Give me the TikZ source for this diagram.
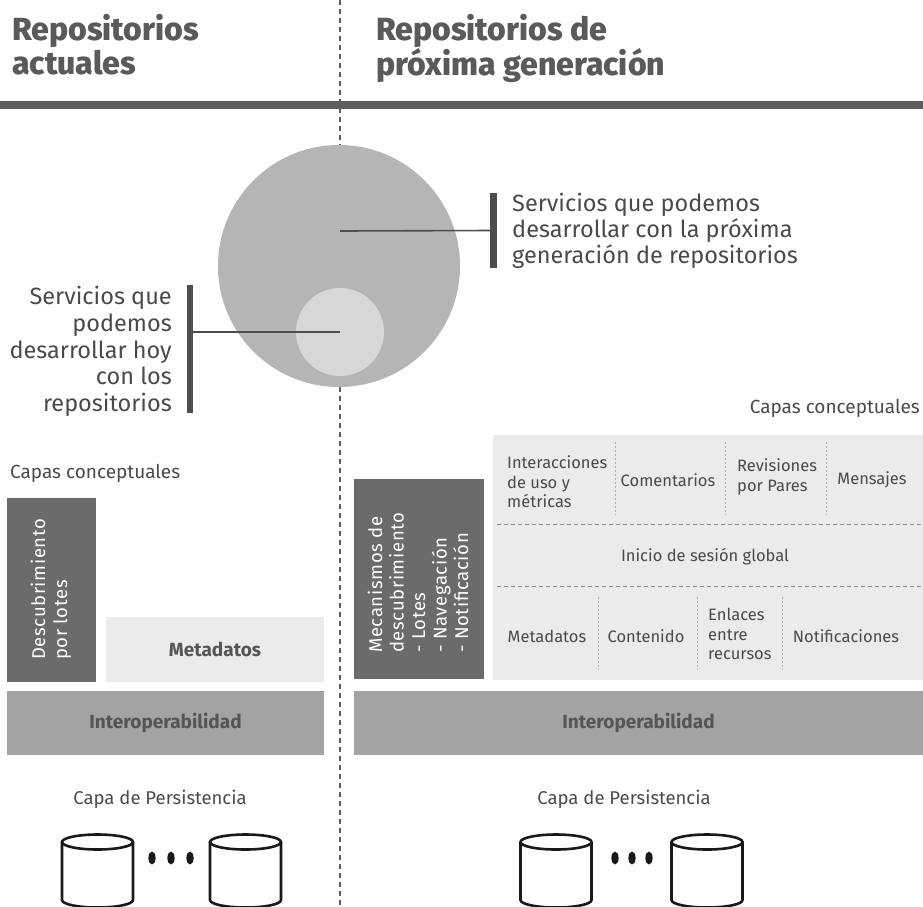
\documentclass[tikz,border=0pt]{standalone}
\usepackage{fontspec}
\setmainfont{Fira Sans}
\newfontfamily\heavyfont{Fira Sans ExtraBold}
\newfontfamily\spacedfont[LetterSpace=3.5]{Fira Sans}
\definecolor{titlec}{HTML}{5A5A5A}
\definecolor{txtc}{HTML}{4A4A4A}
\definecolor{barc}{HTML}{5E5E5E}
\definecolor{darkboxc}{HTML}{6B6B6B}
\definecolor{interc}{HTML}{A3A3A3}
\definecolor{lightboxc}{HTML}{EBEBEB}
\definecolor{bigcc}{HTML}{B5B5B5}
\definecolor{smallcc}{HTML}{D7D7D7}
\definecolor{calloutc}{HTML}{4D4D4D}
\definecolor{sepc}{HTML}{8C8C8C}
\definecolor{boldtxtc}{HTML}{555555}
\begin{document}
\begin{tikzpicture}[x=1pt,y=-1pt,
  titletext/.style={font=\heavyfont\fontsize{32}{34}\selectfont, text=titlec, align=left, inner sep=0, anchor=north west},
  callout/.style={font=\fontsize{23.5}{26}\selectfont, text=txtc, inner sep=0},
  calloutbar/.style={fill=calloutc, inner sep=0, minimum width=6.5},
  calloutline/.style={draw=calloutc, line width=1.6},
  capas/.style={font=\fontsize{19}{22}\selectfont, text=txtc, inner sep=0},
  darkb/.style={fill=darkboxc, inner sep=0},
  lightb/.style={fill=lightboxc, inner sep=0},
  interb/.style={fill=interc, inner sep=0, font=\fontsize{19}{22}\selectfont\bfseries, text=boldtxtc},
  rottext/.style={rotate=90, anchor=west, align=left, text=white, inner sep=0, font=\spacedfont\fontsize{18.5}{22}\selectfont},
  cell/.style={font=\fontsize{16.5}{19.5}\selectfont, text=txtc, inner sep=0},
  vsep/.style={draw=sepc!70, line width=0.9, dash pattern=on 2pt off 2pt},
  hsep/.style={draw=sepc, line width=0.9, dash pattern=on 4pt off 3pt},
  divider/.style={draw=barc, line width=1.2, dash pattern=on 5pt off 4pt},
  persist/.style={font=\fontsize{18.5}{22}\selectfont, text=txtc, inner sep=0, anchor=base},
  cyl/.style={draw=black!90, line width=2.6},
]
\useasboundingbox (0,0) rectangle (923,906);

% divider
\coordinate (divtop) at (340,0);
\coordinate (divbot) at (340,906);
\draw[divider] (divtop) -- (divbot);

% titles and header bar
\node[titletext] (t1) at (12,14) {Repositorios\\actuales};
\node[titletext] (t2) at (376,14) {Repositorios de\\próxima generación};
\fill[barc] (0,101) rectangle (923,109);

% circles and callouts
\node[circle, fill=bigcc, minimum size=242, inner sep=0] (big) at (339,266) {};
\node[circle, fill=smallcc, minimum size=88, inner sep=0] (small) at (340,332) {};
\coordinate (bigpt) at (340,231);
\node[calloutbar, minimum height=75] (barR) at (493.5,230.5) {};
\node[calloutbar, minimum height=128] (barL) at (190,349) {};
\draw[calloutline] (bigpt) -- (barR.west);
\draw[calloutline] (small.center) -- (small.center -| barL.east);
\node[callout, anchor=north west, align=left] (txtR) at (512,193)
  {Servicios que podemos\\desarrollar con la próxima\\generación de repositorios};
\node[callout, anchor=north east, align=right, font=\fontsize{23.5}{26.75}\selectfont] (txtL) at (172,286)
  {Servicios que\\podemos\\desarrollar hoy\\con los\\repositorios};

% lower left
\node[capas, anchor=base west] (capasL) at (10,478) {Capas conceptuales};
\node[darkb, minimum width=89, minimum height=184] (descL) at (51.5,590) {};
\node[rottext] (descLt) at (51,660) {Descubrimiento\\por lotes};
\node[lightb, minimum width=218, minimum height=65, font=\fontsize{19}{22}\selectfont\bfseries, text=boldtxtc] (metaL) at (215,649.5) {Metadatos};
\node[interb, minimum width=317, minimum height=64] (interL) at (165.5,723) {Interoperabilidad};

% lower right
\node[capas, anchor=base east] (capasR) at (920,413) {Capas conceptuales};
\node[darkb, minimum width=130, minimum height=200] (mecR) at (419,579) {};
\node[rottext, font=\spacedfont\fontsize{18.5}{21.5}\selectfont] (mecRt) at (418,653)
  {Mecanismos de\\descubrimiento\\- Lotes\\- Navegación\\- Notificación};
\node[lightb, minimum width=430, minimum height=245] (panel) at (708,557.5) {};
\node[cell, anchor=west, align=left] (c1) at (507,482) {Interacciones\\de uso y\\métricas};
\node[cell] (c2) at (668,480) {Comentarios};
\node[cell, anchor=west, align=left] (c3) at (737,477) {Revisiones\\por Pares};
\node[cell] (c4) at (872,480) {Mensajes};
\node[cell] (c5) at (705,557) {Inicio de sesión global};
\node[cell] (c6) at (547,636) {Metadatos};
\node[cell] (c7) at (646,636) {Contenido};
\node[cell, anchor=west, align=left] (c8) at (708,634) {Enlaces\\entre\\recursos};
\node[cell] (c9) at (846,636) {Notificaciones};
\foreach \x in {615,725,826} \draw[vsep] (\x,442) -- (\x,515);
\foreach \x in {598,697,782} \draw[vsep] (\x,597) -- (\x,670);
\draw[hsep] (497,524) -- (921,524);
\draw[hsep] (497,586) -- (921,586);
\node[interb, minimum width=569, minimum height=64] (interR) at (638.5,723) {Interoperabilidad};

% persistence
\node[persist] (persL) at (160,804) {Capa de Persistencia};
\node[persist] (persR) at (624,804) {Capa de Persistencia};
\begin{scope}
\clip (0,0) rectangle (923,906);
\foreach \cx in {97.5,245.5,556,707}{
  \draw[cyl] (\cx-35.5,842) -- (\cx-35.5,900) arc[start angle=180,end angle=0,x radius=35.5,y radius=7.5] -- (\cx+35.5,842);
  \draw[cyl] (\cx,842) ellipse [x radius=35.5, y radius=7.5];
}
\end{scope}
\foreach \dx in {152,171,190,615,632,649}
  \fill[black!90] (\dx,858) ellipse [x radius=3.6, y radius=6.5];
\end{tikzpicture}
\end{document}
